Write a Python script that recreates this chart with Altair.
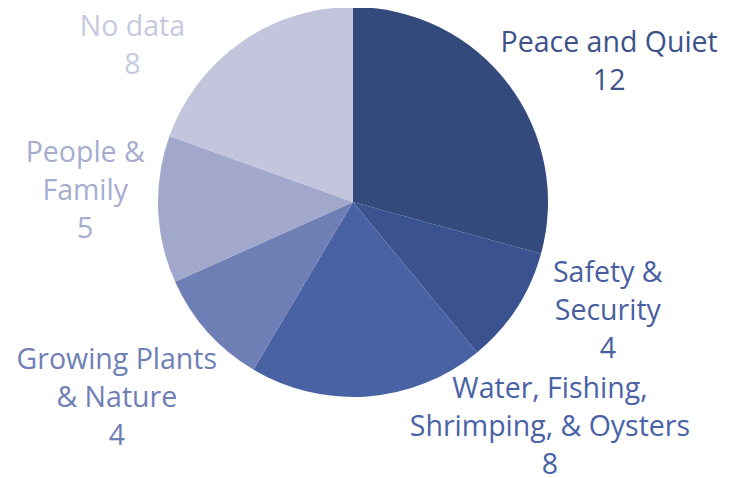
import math
import altair as alt
import pandas as pd

# Data
categories = ["Peace and Quiet", "Safety & Security", "Water, Fishing, Shrimping, & Oysters",
              "Growing Plants & Nature", "People & Family", "No data"]
values = [12, 4, 8, 4, 5, 8]
label_text = ["Peace and Quiet\n12", "Safety &\nSecurity\n4", "Water, Fishing,\nShrimping, & Oysters\n8",
              "Growing Plants\n& Nature\n4", "People &\nFamily\n5", "No data\n8"]

# Styling / layout
slice_colors = ["#344a7c", "#3b5290", "#4862a3", "#6e7fb5", "#a1a8cb", "#c2c5db"]
label_colors = ["#3d5289", "#4a5fa0", "#4a62a6", "#6f80b7", "#a7adcf", "#c6cadf"]
# polar placement (clockwise from top) of each label block's centre
label_angle_deg = [61.3, 113.1, 138.8, 230.3, 272.4, 305.2]
label_radius_px = [292, 277, 299, 307, 268, 270]
LINE_H = 38

# Vega anchors a multi-line text at its first line: shift each anchor up by half the block
ang, rad = [], []
for a, r, t in zip(label_angle_deg, label_radius_px, label_text):
    n = t.count("\n") + 1
    x = r * math.sin(math.radians(a))
    y = -r * math.cos(math.radians(a)) - (n - 1) * LINE_H / 2
    rad.append(math.hypot(x, y))
    ang.append(math.atan2(x, -y))

df = pd.DataFrame({
    "category": categories,
    "value": values,
    "order": list(range(len(categories))),
    "label": label_text,
    "lcolor": label_colors,
    "ang": ang,
    "rad": rad,
})

CX, CY = 345, 194

pie = alt.Chart(df).mark_arc(outerRadius=195).encode(
    theta=alt.Theta("value:Q", stack=True),
    order=alt.Order("order:Q"),
    color=alt.Color("category:N", scale=alt.Scale(domain=categories, range=slice_colors), legend=None),
    x=alt.value(CX), y=alt.value(CY),
)

labels = alt.Chart(df).mark_text(
    font="Open Sans", fontSize=28.5, lineBreak="\n", lineHeight=LINE_H,
    align="center", baseline="middle",
).encode(
    theta=alt.Theta("ang:Q", scale=None),
    radius=alt.Radius("rad:Q", scale=None),
    text="label:N",
    color=alt.Color("lcolor:N", scale=None),
    x=alt.value(CX), y=alt.value(CY),
)

chart = alt.layer(pie, labels).properties(
    width=722, height=470, padding=0, autosize=alt.AutoSizeParams(type="none")
).configure_view(stroke=None)

chart.save("out.html", embed_options={"renderer": "svg", "actions": False})
